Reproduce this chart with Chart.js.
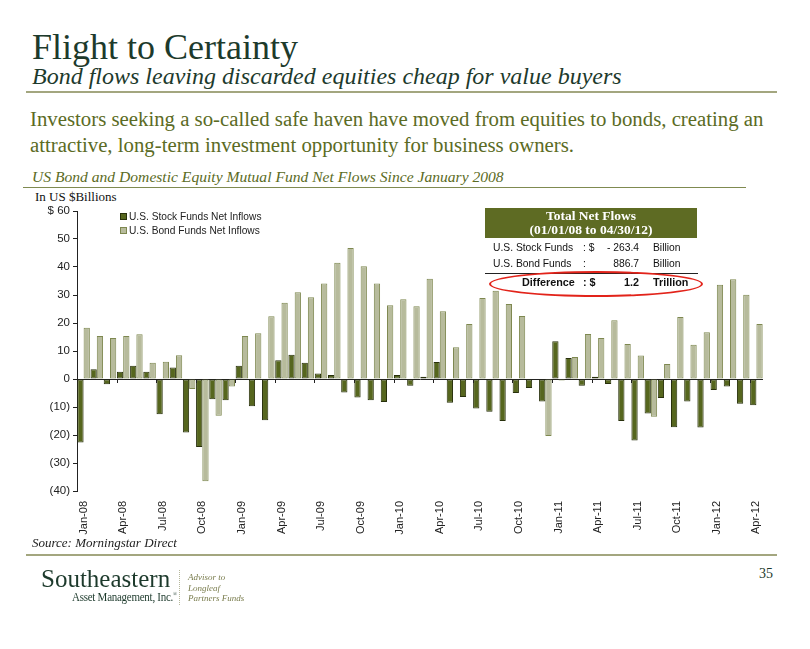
<!DOCTYPE html>
<html>
<head>
<meta charset="utf-8">
<script src="https://cdn.jsdelivr.net/npm/chart.js@4.4.1/dist/chart.umd.min.js"></script>
<style>
  body { margin: 0; background: #fff; }
  #page { position: relative; width: 810px; height: 649px; overflow: hidden; font-family: "Liberation Serif", serif; }
  .abs { position: absolute; white-space: nowrap; }
  .rule { position: absolute; height: 2px; background: #a3a67f; }
  #chartWrap { position: absolute; left: 0; top: 198px; width: 790px; height: 345px; }
  .lg { font-family: "Liberation Sans", Arial, sans-serif; font-size: 10.2px; color: #222; }
  .sw { display: inline-block; width: 5px; height: 5px; margin-right: 2px; vertical-align: 0px; }
  .tb { font-family: "Liberation Sans", Arial, sans-serif; font-size: 10.3px; color: #111; }
</style>
</head>
<body>
<div id="page">
  <div class="abs" style="left:32px; top:26px; font-size:36px; color:#1d3a2c;">Flight to Certainty</div>
  <div class="abs" style="left:32px; top:63px; font-size:24px; font-style:italic; color:#1d3a2c;">Bond flows leaving discarded equities cheap for value buyers</div>
  <div class="rule" style="left:26px; top:91px; width:751px;"></div>

  <div class="abs" style="left:30px; top:106px; font-size:20.8px; line-height:26px; color:#5b6b24;">Investors seeking a so-called safe haven have moved from equities to bonds, creating an<br>attractive, long-term investment opportunity for business owners.</div>

  <div class="abs" style="left:32px; top:168px; font-size:15.6px; font-style:italic; color:#5b6b24;">US Bond and Domestic Equity Mutual Fund Net Flows Since January 2008</div>
  <div class="rule" style="left:23px; top:187px; width:723px; height:1px; background:#7f8a50;"></div>
  <div class="abs" style="left:35px; top:189px; font-size:13px; color:#111;">In US $Billions</div>

  <div id="chartWrap"><canvas id="flows" width="790" height="345"></canvas></div>

  <div class="abs lg" style="left:120px; top:211px;"><span class="sw" style="background:#56661e; border:1px solid #28300c;"></span>U.S. Stock Funds Net Inflows</div>
  <div class="abs lg" style="left:120px; top:225px;"><span class="sw" style="background:#b7bb9c; border:1px solid #7e8850;"></span>U.S. Bond Funds Net Inflows</div>

  <div class="abs" style="left:485px; top:208px; width:212px; height:29px; background:#5e6b23; color:#fff; font-weight:bold; font-size:13.5px; line-height:14px; text-align:center; padding-top:1px;">Total Net Flows<br>(01/01/08 to 04/30/12)</div>
  <div class="abs tb" style="left:493px; top:242px;">U.S. Stock Funds</div>
  <div class="abs tb" style="left:583px; top:242px;">: $</div>
  <div class="abs tb" style="left:600px; top:242px; width:39px; text-align:right;">- 263.4</div>
  <div class="abs tb" style="left:653px; top:242px;">Billion</div>
  <div class="abs tb" style="left:493px; top:258px;">U.S. Bond Funds</div>
  <div class="abs tb" style="left:583px; top:258px;">:</div>
  <div class="abs tb" style="left:600px; top:258px; width:39px; text-align:right;">886.7</div>
  <div class="abs tb" style="left:653px; top:258px;">Billion</div>
  <div class="abs" style="left:485px; top:273px; width:213px; height:1px; background:#222;"></div>
  <div class="abs tb" style="left:522px; top:276px; font-weight:bold; font-size:10.8px;">Difference</div>
  <div class="abs tb" style="left:583px; top:276px; font-weight:bold; font-size:10.8px;">: $</div>
  <div class="abs tb" style="left:600px; top:276px; width:39px; text-align:right; font-weight:bold; font-size:10.8px;">1.2</div>
  <div class="abs tb" style="left:653px; top:276px; font-weight:bold; font-size:10.8px;">Trillion</div>
  <div class="abs" style="left:489px; top:271px; width:210px; height:22px; border:2px solid #e2231a; border-radius:50%;"></div>

  <div class="abs" style="left:32px; top:535px; font-size:13px; font-style:italic; color:#222;">Source: Morningstar Direct</div>
  <div class="rule" style="left:26px; top:554px; width:751px;"></div>

  <div class="abs" style="left:41px; top:565px; font-size:25px; color:#1d3a2c;">Southeastern</div>
  <div class="abs" style="left:72px; top:590px; font-size:12.5px; letter-spacing:-0.3px; color:#1d3a2c; transform:scaleX(0.88); transform-origin:0 0;">Asset Management, Inc.<sup style="font-size:6px;">®</sup></div>
  <div class="abs" style="left:179px; top:570px; width:0; height:35px; border-left:1px dotted #b5b79a;"></div>
  <div class="abs" style="left:188px; top:572px; font-size:9px; line-height:10.5px; font-style:italic; color:#7a7d4e;">Advisor to<br>Longleaf<br>Partners Funds</div>
  <div class="abs" style="left:759px; top:566px; font-size:14px; color:#1d3a2c;">35</div>
</div>

<script>
const months = [
  'Jan-08','Feb-08','Mar-08','Apr-08','May-08','Jun-08','Jul-08','Aug-08','Sep-08','Oct-08','Nov-08','Dec-08',
  'Jan-09','Feb-09','Mar-09','Apr-09','May-09','Jun-09','Jul-09','Aug-09','Sep-09','Oct-09','Nov-09','Dec-09',
  'Jan-10','Feb-10','Mar-10','Apr-10','May-10','Jun-10','Jul-10','Aug-10','Sep-10','Oct-10','Nov-10','Dec-10',
  'Jan-11','Feb-11','Mar-11','Apr-11','May-11','Jun-11','Jul-11','Aug-11','Sep-11','Oct-11','Nov-11','Dec-11',
  'Jan-12','Feb-12','Mar-12','Apr-12'
];

// net inflows, $ billions
const stockFlows = [
  -22.7, 3.5, -1.9, 2.6, 4.7, 2.6, -12.6, 4.1, -19.1, -24.3, -7.2, -7.6,
  4.7, -9.7, -14.7, 6.7, 8.7, 5.8, 2.0, 1.4, -4.8, -6.6, -7.6, -8.2,
  1.4, -2.4, 0.8, 6.1, -8.5, -6.4, -10.5, -11.7, -15.0, -5.0, -3.2, -8.0,
  13.5, 7.5, -2.4, 0.8, -1.8, -15.0, -22.0, -12.3, -6.8, -17.2, -8.0, -17.3,
  -3.9, -2.7, -8.8, -9.4
];
const bondFlows = [
  18.3, 15.4, 14.6, 15.4, 16.0, 5.8, 6.2, 8.5, -3.6, -36.5, -13.1, -2.7,
  15.4, 16.3, 22.4, 27.2, 31.0, 29.2, 34.1, 41.5, 46.8, 40.3, 34.1, 26.3,
  28.5, 26.0, 35.8, 24.2, 11.3, 19.6, 28.9, 31.5, 26.8, 22.5, 0, -20.4,
  -0.5, 7.9, 16.1, 14.6, 21.0, 12.5, 8.4, -13.5, 5.4, 22.1, 12.2, 16.7,
  33.7, 35.6, 30.1, 19.6
];

const yMin = -40, yMax = 60, yStep = 10;

// small tick marks on the zero line at the start of each quarter
const quarterTicks = {
  id: 'quarterTicks',
  afterDatasetsDraw(chart) {
    const x = chart.scales.x, y = chart.scales.y, ctx = chart.ctx;
    const y0 = y.getPixelForValue(0);
    const half = (x.getPixelForValue(1) - x.getPixelForValue(0)) / 2;
    ctx.save();
    ctx.strokeStyle = '#222';
    ctx.lineWidth = 1;
    ctx.beginPath();
    for (let i = 3; i < months.length; i += 3) {
      const px = Math.round(x.getPixelForValue(i) - half) + 0.5;
      ctx.moveTo(px, y0);
      ctx.lineTo(px, y0 + 4);
    }
    ctx.stroke();
    ctx.restore();
  }
};

new Chart(document.getElementById('flows').getContext('2d'), {
  type: 'bar',
  data: {
    labels: months,
    datasets: [{
      label: 'U.S. Stock Funds Net Inflows',
      data: stockFlows,
      backgroundColor: '#56661e',
      borderColor: '#28300c',
      borderWidth: 1,
      borderSkipped: false
    }, {
      label: 'U.S. Bond Funds Net Inflows',
      data: bondFlows,
      backgroundColor: '#b7bb9c',
      borderColor: '#7e8850',
      borderWidth: 1,
      borderSkipped: false
    }]
  },
  options: {
    responsive: false,
    animation: false,
    devicePixelRatio: 1,
    layout: { padding: { top: 13, right: 27, left: 0, bottom: 0 } },
    datasets: { bar: { categoryPercentage: 0.95, barPercentage: 1.0 } },
    plugins: { legend: { display: false }, tooltip: { enabled: false } },
    scales: {
      x: {
        grid: { display: false },
        border: { display: false },
        afterFit(scale) { scale.height = 52; },
        ticks: {
          autoSkip: false,
          minRotation: 90,
          maxRotation: 90,
          padding: 2,
          color: '#222',
          font: { family: 'Liberation Sans, Arial, sans-serif', size: 11 },
          callback(v, i) { return i % 3 === 0 ? months[i] : ''; }
        }
      },
      y: {
        min: yMin,
        max: yMax,
        afterFit(scale) { scale.width = 77; },
        border: { display: true, color: '#222', width: 1 },
        grid: {
          drawOnChartArea: true,
          tickLength: 4,
          tickColor: '#222',
          color: ctx => (ctx.tick && ctx.tick.value === 0) ? '#222' : 'rgba(0,0,0,0)'
        },
        ticks: {
          stepSize: yStep,
          padding: 3,
          color: '#222',
          font: { family: 'Liberation Sans, Arial, sans-serif', size: 11.5 },
          callback(v) {
            if (v === yMax) return '$ ' + v;
            if (v < 0) return '(' + (-v) + ')';
            return v;
          }
        }
      }
    }
  },
  plugins: [quarterTicks]
});
</script>
</body>
</html>
